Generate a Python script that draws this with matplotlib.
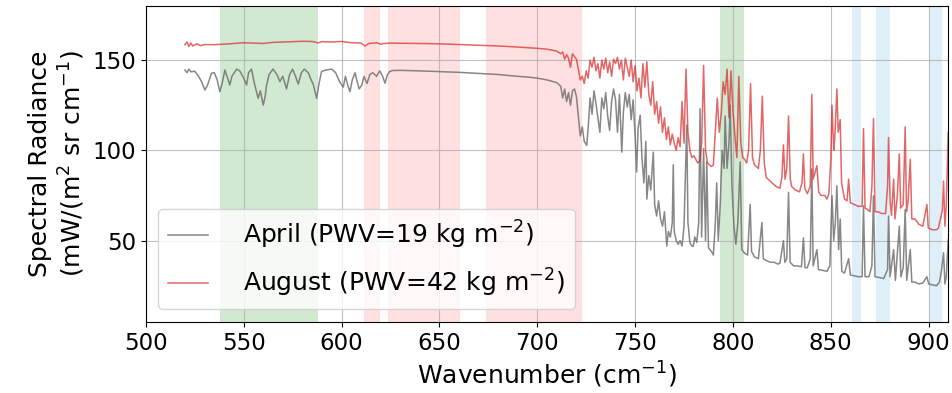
import numpy as np
import matplotlib
matplotlib.use('Agg')
import matplotlib.pyplot as plt

# August spectrum (wavenumber, radiance)
aug_x = [520, 521, 522, 523, 524, 526, 528, 530, 535, 540, 545, 550, 555, 560, 565, 570, 575, 580, 585, 588,
         590, 595, 600, 605, 610, 612, 614, 618, 620, 622, 625, 630, 640, 650, 660, 670, 680, 690, 700, 705,
         710, 712, 713, 714, 715, 716, 717, 718, 719, 720, 721, 722, 723, 724, 725, 726, 727, 728, 729, 730,
         731, 732, 733, 734, 735, 736, 737, 738, 739, 740, 741, 742, 743, 744, 745, 746, 747, 748, 749, 750,
         751, 752, 753, 754, 755, 756, 757, 758, 759, 760, 761, 762, 763, 764, 765, 766, 767, 768, 769, 770,
         771, 772, 773, 774, 775, 776, 777, 778, 779, 780, 781, 782, 783, 784, 785, 786, 787, 788, 789, 790,
         791, 792, 793, 794, 795, 796, 797, 798, 799, 800, 801, 802, 803, 804, 805, 806, 807, 808, 809, 810,
         811, 812, 813, 814, 815, 816, 817, 818, 819, 820, 822, 824, 825, 825.8, 826.6, 827.5, 828.4, 829.3, 830, 832,
         834, 835.3, 836, 836.7, 838, 839.5, 840.3, 841, 842, 842.9, 843.8, 845, 847, 848, 849, 850, 850.6, 851.5, 852, 853.1,
         853.8, 854.8, 855.5, 857, 858.3, 859.1, 860, 862, 864, 866, 866.7, 867.5, 869, 870, 871, 871.8, 872.6, 874, 876, 878,
         879, 879.5, 880.3, 881, 882.1, 882.8, 884, 885, 885.7, 887, 888, 888.7, 889.5, 890.6, 891.4, 893, 895, 897, 899.1, 899.8,
         902, 904, 905, 906, 907, 907.6, 908.3, 909, 910]
aug_y = [158.5, 160, 157.5, 159.5, 157.8, 159, 158, 158.6, 158.5, 158.8, 159.2, 159.6, 159.4, 159.2, 159.8, 160, 160.2, 160.4, 160.3, 159.5,
         160.2, 160, 160.3, 159.6, 159.4, 157.8, 159.2, 159.6, 158.8, 159.2, 159.4, 159.3, 159.2, 159, 158.6, 158.2, 157.8, 157.2, 156.5, 156,
         155, 153.5, 154.5, 150.5, 153, 151, 146, 153.5, 152, 150.5, 145, 139, 141, 137, 144, 140, 150, 146, 151.5, 144,
         148, 140, 150, 145, 151, 143, 149, 141, 150.5, 148, 151.5, 145, 150, 139, 151, 146, 141, 150, 138, 147,
         133, 140, 129, 148, 135, 149, 131, 125, 138, 120, 127, 115, 124, 110, 118, 106, 113, 103, 109, 104,
         100, 107, 102, 127, 104, 145, 110, 100, 96, 97, 95, 93, 94, 104, 147, 100, 93, 92, 91, 92,
         110, 129, 110, 120, 138, 131, 145, 118, 144, 122, 108, 96, 141, 104, 96, 95, 93, 100, 137, 96,
         92, 91, 90, 100, 130, 93, 85, 84, 83, 82, 80, 79, 85, 103, 84, 90, 119, 84, 80, 78,
         77, 82, 98, 79, 76, 80, 131, 84, 88, 91.5, 77, 75, 75, 73, 76, 95, 125, 100, 106, 134,
         110, 117, 82, 73, 72, 84, 71, 70, 69, 69, 112, 68, 67, 66, 80, 117.6, 66, 66, 65, 65,
         80, 107, 72, 64, 84, 62, 75, 98, 68, 70, 113, 66, 72, 95, 62, 62, 59, 58, 70, 57,
         56, 56, 57, 62, 67, 83, 58, 70, 110]

# April spectrum
apr_x = [520, 521, 522, 523, 525, 527, 528.5, 530.2, 531.5, 533.6, 535, 536.5, 537.8, 539, 540.4, 541.5, 542.9, 544, 546.4, 548,
         550, 551.5, 552.5, 554, 555.5, 557.4, 558.5, 560, 561, 561.7, 563, 565, 567, 568.5, 570, 571.9, 573.5, 575, 576.5, 577.9,
         579.5, 581, 583, 584.5, 585.5, 587.3, 588.5, 589.8, 592, 595, 597, 599, 600.9, 602, 603.2, 604.3, 605.5, 606.9, 608, 609,
         610.3, 611.5, 613, 614.5, 616, 617.9, 619.5, 621, 622.2, 623.5, 624.7, 626, 630, 640, 650, 660, 670, 680, 690, 695,
         700, 705, 710, 712, 713, 714, 715, 716, 717, 718, 719, 720, 721, 722, 723, 724, 725.3, 726, 727, 728,
         729, 730, 731, 732, 733, 734, 735, 736, 737, 738, 739, 740, 741, 742, 743.2, 744, 745, 746, 747, 748,
         749, 750, 750.8, 751.5, 752.6, 753.5, 754.5, 755.5, 756, 757, 758, 759.3, 760, 761, 762, 763, 764, 765, 766.2, 767,
         768, 769, 769.5, 770, 771, 772, 773, 774, 775, 776.4, 777, 778, 779, 779.7, 780.5, 781.5, 782.5, 783.2, 784, 785,
         786, 786.6, 787.5, 789, 790, 791, 791.7, 792.5, 793.5, 794.5, 795.5, 796, 797, 798, 798.6, 799.5, 800.5, 801.5, 802.5, 803.7,
         804.5, 806, 807.5, 808.8, 809.5, 811, 813, 814.8, 815.5, 817, 819, 821, 823, 824, 825.8, 826.5, 827.5, 828.4, 829.2, 831,
         833, 835, 836, 836.8, 838, 839.5, 840.3, 841, 842.9, 843.7, 846, 848, 849.5, 850.6, 851.5, 852.3, 853.1, 854, 854.8, 855.6,
         857, 859.1, 860, 862, 864, 866, 866.7, 867.5, 869.5, 871, 871.8, 872.6, 875, 877, 879, 879.5, 880.3, 882.1, 883, 885,
         885.8, 887, 888, 888.8, 890.6, 891.4, 893, 895, 897, 899.1, 900, 902, 904, 905.5, 906.5, 907.6, 908.3, 909, 910]
apr_y = [144.5, 143, 145, 143.5, 143.8, 141, 138, 133.4, 136, 142.7, 143, 139, 132.5, 137, 144.5, 141, 136.2, 141, 145, 144,
         140, 136.2, 143, 145, 137, 128.8, 133, 125, 130, 136, 142, 145, 142, 138.1, 141, 134, 142, 145, 141, 136.7,
         143, 145, 143, 139, 136.7, 128.8, 137, 143.7, 144.5, 145, 143, 138, 135, 141, 136, 132.5, 139, 143, 138, 134,
         136, 141, 137, 142, 143, 141, 144, 141, 137.2, 142, 143.7, 144.2, 144.3, 144, 143.6, 143.2, 142.6, 142, 141, 140.6,
         140, 139, 137.5, 135.5, 129, 134, 127, 132, 125, 133, 134, 130, 119, 108, 113, 105, 102.7, 112, 129, 120,
         133, 126, 118, 110, 129, 123, 132, 119, 111, 127, 134, 128, 110, 131, 99, 121, 132, 124, 131, 117,
         128, 108, 88, 112, 119.4, 96, 82, 105, 73, 86, 78, 99, 70, 63.6, 72, 62, 58, 66, 47, 55,
         52, 60, 92, 55, 50, 48, 50, 47, 58, 114, 60, 49, 47, 46.8, 52, 49, 60, 123, 52, 101,
         50, 93.6, 46, 44, 42, 60, 82, 50, 70, 100, 90, 119, 90, 105, 125, 80, 58, 48, 60, 93.6,
         45, 43, 42, 70, 44, 41, 40, 60, 40, 39, 38, 38, 37, 37.5, 50, 38, 40, 76.7, 38, 36,
         36, 35.5, 51.5, 35, 35, 40, 89.7, 36, 45, 34, 33.5, 33, 36, 75, 50, 60, 80.3, 45, 62, 33,
         32, 40, 31, 30.5, 30, 30, 69.2, 30, 30, 36, 74.8, 30, 29.5, 29, 34, 63.6, 30, 45, 28, 58,
         30, 35, 67.3, 28, 45, 27, 27, 26, 26.5, 30, 26, 25.5, 25, 27, 33, 43.3, 26, 30, 50.6]

# shaded bands (start, end)
green_bands = [(538, 588), (793.5, 805.5)]
red_bands = [(611.5, 619.5), (623.5, 660.5), (674, 723)]
blue_bands = [(861, 865.5), (873, 880), (900, 907)]

plt.rcParams['font.size'] = 16.5

fig = plt.figure(figsize=(9.53, 3.93), dpi=100)
ax = fig.add_axes([0.153, 0.181, 0.842, 0.804])

for a, b in green_bands:
    ax.axvspan(a, b, color='green', alpha=0.18, lw=0, zorder=0)
for a, b in red_bands:
    ax.axvspan(a, b, color='red', alpha=0.12, lw=0, zorder=0)
for a, b in blue_bands:
    ax.axvspan(a, b, color='#5fb0e0', alpha=0.2, lw=0, zorder=0)

ax.plot(apr_x, apr_y, color='dimgray', alpha=0.8, lw=1.1, label='April (PWV=19 kg m$^{-2}$)')
ax.plot(aug_x, aug_y, color='tab:red', alpha=0.7, lw=1.1, label='August (PWV=42 kg m$^{-2}$)')

ax.set_xlim(500, 910)
ax.set_ylim(5, 180)
ax.set_xticks(np.arange(500, 901, 50))
ax.set_yticks([50, 100, 150])
ax.grid(True, color='#b0b0b0', lw=0.8, alpha=0.8)
ax.set_xlabel('Wavenumber (cm$^{-1}$)', fontsize=18)
ax.set_ylabel('Spectral Radiance\n(mW/(m$^2$ sr cm$^{-1}$)', fontsize=18)
ax.legend(loc='lower left', framealpha=0.8, fontsize=18, handlelength=1.6,
          handletextpad=1.4, labelspacing=0.65)

fig.savefig('out.png', dpi=100)
